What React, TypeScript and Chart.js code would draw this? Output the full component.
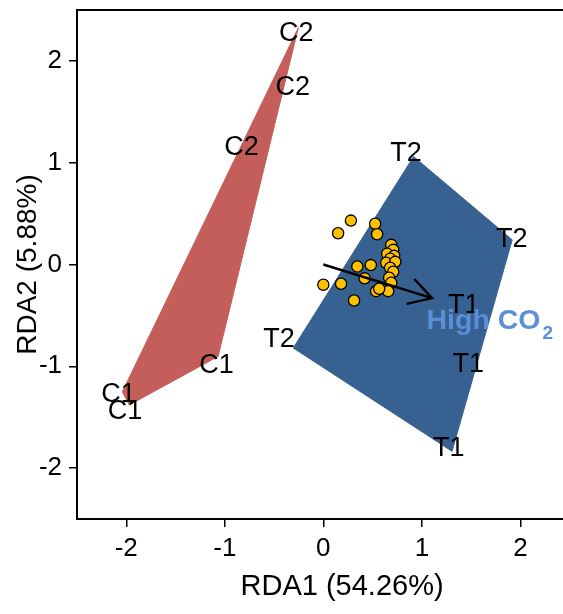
import React, { useEffect, useRef } from "react";
import { Chart, registerables } from "chart.js";

Chart.register(...registerables);

// ---- data ----
const xTicks = [-2, -1, 0, 1, 2];
const yTicks = [-2, -1, 0, 1, 2];
const xTitle = "RDA1 (54.26%)";
const yTitle = "RDA2 (5.88%)";

// site scores (labels)
const siteLabels = ["C2", "C2", "C2", "C1", "C1", "C1", "T2", "T2", "T1", "T2", "T1", "T1"];
const siteX = [-0.276, -0.31, -0.83, -1.084, -2.078, -2.012, 0.838, 1.913, 1.424, -0.449, 1.472, 1.272];
const siteY = [2.271, 1.741, 1.147, -0.994, -1.279, -1.443, 1.086, 0.25, -0.4, -0.739, -0.984, -1.811];

// hull of control group (C)
const hullCX = [-0.254, -2.04, -1.97, -1.068];
const hullCY = [2.326, -1.25, -1.38, -0.903];
// hull of treatment group (T)
const hullTX = [0.916, 1.917, 1.306, -0.305];
const hullTY = [1.06, 0.242, -1.835, -0.82];

// species scores
const speciesX = [0.28, 0.15, 0.526, 0.546, 0.689, 0.709, 0.648, 0.719, 0.678, 0.638, 0.73, 0.678, 0.709, 0.668, 0.689, 0.658, 0.536, 0.567, 0.482, 0.345, 0.419, 0.0, 0.18, 0.312];
const speciesY = [0.431, 0.307, 0.4, 0.297, 0.193, 0.144, 0.105, 0.085, 0.056, 0.017, 0.026, -0.032, -0.071, -0.13, -0.18, -0.262, -0.262, -0.238, -0.006, -0.02, -0.136, -0.199, -0.189, -0.354];

// environmental vector
const arrowX = [0, 1.103];
const arrowY = [0, -0.33];
const envText = "High CO";
const envSub = "2";
const envX = 1.689;
const envY = -0.559;

const FONT = "'Liberation Sans', Arial, Helvetica, sans-serif";

function toPts(xs: number[], ys: number[], close: boolean) {
  const pts = xs.map((x, i) => ({ x, y: ys[i] }));
  if (close) pts.push({ x: xs[0], y: ys[0] });
  return pts;
}

const overlayPlugin = {
  id: "overlay",
  afterDatasetsDraw(chart: any) {
    const { ctx, chartArea, scales } = chart;
    const xs = scales.x;
    const ys = scales.y;
    ctx.save();
    // top and right border
    ctx.strokeStyle = "#000";
    ctx.lineWidth = 2;
    ctx.beginPath();
    ctx.moveTo(chartArea.left - 1, chartArea.top);
    ctx.lineTo(chartArea.right, chartArea.top);
    ctx.lineTo(chartArea.right, chartArea.bottom);
    ctx.stroke();

    // site labels
    ctx.fillStyle = "#000";
    ctx.font = `27px ${FONT}`;
    ctx.textAlign = "center";
    ctx.textBaseline = "middle";
    siteLabels.forEach((t, i) => {
      ctx.fillText(t, xs.getPixelForValue(siteX[i]), ys.getPixelForValue(siteY[i]));
    });

    // arrow
    const x0 = xs.getPixelForValue(arrowX[0]);
    const y0 = ys.getPixelForValue(arrowY[0]);
    const x1 = xs.getPixelForValue(arrowX[1]);
    const y1 = ys.getPixelForValue(arrowY[1]);
    const ang = Math.atan2(y1 - y0, x1 - x0);
    const head = 26;
    ctx.strokeStyle = "#000";
    ctx.lineWidth = 2.5;
    ctx.lineCap = "butt";
    ctx.beginPath();
    ctx.moveTo(x0, y0);
    ctx.lineTo(x1, y1);
    ctx.moveTo(x1 - head * Math.cos(ang - Math.PI / 6), y1 - head * Math.sin(ang - Math.PI / 6));
    ctx.lineTo(x1, y1);
    ctx.lineTo(x1 - head * Math.cos(ang + Math.PI / 6), y1 - head * Math.sin(ang + Math.PI / 6));
    ctx.stroke();

    // env label
    const ex = xs.getPixelForValue(envX);
    const ey = ys.getPixelForValue(envY);
    ctx.fillStyle = "#5B8FD9";
    ctx.font = `bold 28.5px ${FONT}`;
    const w1 = ctx.measureText(envText).width;
    ctx.font = `bold 19px ${FONT}`;
    const w2 = ctx.measureText(envSub).width;
    const left = ex - (w1 + 2 + w2) / 2;
    ctx.textAlign = "left";
    ctx.textBaseline = "middle";
    ctx.font = `bold 28.5px ${FONT}`;
    ctx.fillText(envText, left, ey);
    ctx.textBaseline = "alphabetic";
    ctx.font = `bold 19px ${FONT}`;
    ctx.fillText(envSub, left + w1 + 2, ey + 17.5);
    ctx.restore();
  },
};

export default function App() {
  const ref = useRef<HTMLCanvasElement | null>(null);
  useEffect(() => {
    if (!ref.current) return;
    Chart.defaults.font.family = FONT;
    const chart = new Chart(ref.current, {
      type: "scatter",
      data: {
        datasets: [
          {
            data: toPts(hullCX, hullCY, true),
            showLine: true,
            fill: "shape",
            backgroundColor: "#C45E5B",
            borderColor: "#C45E5B",
            borderWidth: 1,
            pointRadius: 0,
            tension: 0,
            order: 3,
          } as any,
          {
            data: toPts(hullTX, hullTY, true),
            showLine: true,
            fill: "shape",
            backgroundColor: "#366191",
            borderColor: "#366191",
            borderWidth: 1,
            pointRadius: 0,
            tension: 0,
            order: 2,
          } as any,
          {
            data: toPts(speciesX, speciesY, false),
            showLine: false,
            pointRadius: 5.6,
            backgroundColor: "#FFC000",
            borderColor: "#000",
            borderWidth: 1.3,
            order: 1,
          } as any,
        ],
      },
      options: {
        animation: false,
        responsive: false,
        devicePixelRatio: 1,
        events: [],
        layout: { padding: { left: 0, top: 10, right: 1, bottom: 0 } },
        plugins: { legend: { display: false }, tooltip: { enabled: false } },
        scales: {
          x: {
            type: "linear",
            min: -2.5,
            max: 2.88,
            afterBuildTicks: (s: any) => {
              s.ticks = xTicks.map((v) => ({ value: v }));
            },
            afterFit: (s: any) => {
              s.height = 95;
              s.paddingLeft = 0;
              s.paddingRight = 0;
            },
            ticks: { color: "#000", font: { size: 26 }, padding: 6, maxRotation: 0 },
            grid: { display: true, drawOnChartArea: false, drawTicks: true, tickLength: 8, color: "#000", lineWidth: 1.5 },
            border: { display: true, color: "#000", width: 2 },
            title: { display: true, text: xTitle, color: "#000", font: { size: 29 }, padding: { top: 0, bottom: 10 } },
          },
          y: {
            type: "linear",
            min: -2.5,
            max: 2.5,
            afterBuildTicks: (s: any) => {
              s.ticks = yTicks.map((v) => ({ value: v }));
            },
            afterFit: (s: any) => {
              s.width = 77;
              s.paddingTop = 0;
              s.paddingBottom = 0;
            },
            ticks: { color: "#000", font: { size: 26 }, padding: 7 },
            grid: { display: true, drawOnChartArea: false, drawTicks: true, tickLength: 8, color: "#000", lineWidth: 1.5 },
            border: { display: true, color: "#000", width: 2 },
            title: { display: true, text: yTitle, color: "#000", font: { size: 28 }, padding: { top: 11, bottom: 0 } },
          },
        },
      },
      plugins: [overlayPlugin],
    });
    return () => chart.destroy();
  }, []);

  return (
    <div style={{ position: "absolute", left: 0, top: 0, width: 563, height: 614, overflow: "hidden", background: "#fff" }}>
      <canvas ref={ref} width={614} height={614} style={{ display: "block", width: 614, height: 614 }} />
    </div>
  );
}
